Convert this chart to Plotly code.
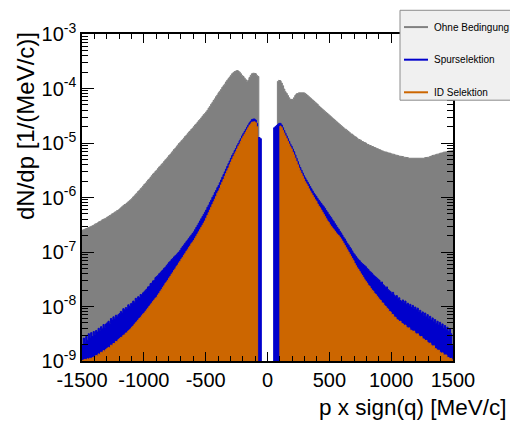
import numpy as np
import plotly.graph_objects as go

# ---------------- data (log10 of dN/dp per 10 MeV/c bin, None = empty bin) ----------------
BIN_LO, BIN_HI, BIN_W = -1500, 1500, 10

GRAY_LOG = [
    -6.60,-6.59,-6.58,-6.57,-6.56,-6.55,-6.54,-6.53,-6.52,-6.51,
    -6.49,-6.48,-6.47,-6.45,-6.44,-6.43,-6.41,-6.40,-6.39,-6.38,
    -6.36,-6.35,-6.33,-6.32,-6.30,-6.29,-6.27,-6.26,-6.24,-6.23,
    -6.21,-6.19,-6.17,-6.15,-6.13,-6.12,-6.10,-6.08,-6.06,-6.04,
    -6.02,-5.99,-5.97,-5.94,-5.92,-5.89,-5.87,-5.84,-5.82,-5.79,
    -5.76,-5.74,-5.71,-5.68,-5.66,-5.63,-5.60,-5.57,-5.55,-5.52,
    -5.50,-5.47,-5.44,-5.42,-5.39,-5.37,-5.34,-5.31,-5.29,-5.26,
    -5.23,-5.21,-5.18,-5.15,-5.12,-5.10,-5.07,-5.04,-5.01,-4.99,
    -4.96,-4.94,-4.91,-4.88,-4.86,-4.83,-4.80,-4.78,-4.75,-4.73,
    -4.70,-4.67,-4.65,-4.62,-4.59,-4.57,-4.54,-4.51,-4.48,-4.46,
    -4.43,-4.40,-4.36,-4.33,-4.29,-4.26,-4.22,-4.19,-4.15,-4.12,
    -4.08,-4.05,-4.02,-3.98,-3.95,-3.92,-3.88,-3.85,-3.82,-3.79,
    -3.76,-3.73,-3.71,-3.69,-3.68,-3.67,-3.68,-3.70,-3.73,-3.76,
    -3.78,-3.81,-3.84,-3.87,-3.85,-3.80,-3.76,-3.73,-3.72,-3.72,
    -3.73,-3.76,-3.78,None,None,None,None,None,None,None,
    None,None,None,None,None,None,None,None,-3.87,-3.85,
    -3.86,-3.90,-3.95,-4.01,-4.06,-4.09,-4.13,-4.17,-4.20,-4.21,
    -4.20,-4.17,-4.13,-4.10,-4.09,-4.08,-4.07,-4.07,-4.07,-4.08,
    -4.09,-4.11,-4.13,-4.15,-4.17,-4.19,-4.21,-4.23,-4.25,-4.27,
    -4.29,-4.32,-4.34,-4.36,-4.38,-4.40,-4.42,-4.44,-4.46,-4.48,
    -4.50,-4.52,-4.54,-4.56,-4.58,-4.60,-4.62,-4.64,-4.66,-4.68,
    -4.70,-4.72,-4.74,-4.75,-4.77,-4.79,-4.81,-4.83,-4.84,-4.86,
    -4.88,-4.89,-4.91,-4.93,-4.94,-4.95,-4.97,-4.98,-4.99,-5.00,
    -5.02,-5.03,-5.04,-5.05,-5.06,-5.07,-5.08,-5.09,-5.10,-5.11,
    -5.12,-5.13,-5.14,-5.15,-5.16,-5.16,-5.17,-5.18,-5.19,-5.19,
    -5.20,-5.21,-5.21,-5.22,-5.23,-5.23,-5.24,-5.24,-5.25,-5.25,
    -5.26,-5.26,-5.27,-5.27,-5.28,-5.28,-5.28,-5.28,-5.29,-5.29,
    -5.29,-5.29,-5.29,-5.29,-5.28,-5.28,-5.28,-5.27,-5.27,-5.26,
    -5.26,-5.25,-5.24,-5.23,-5.23,-5.22,-5.21,-5.20,-5.20,-5.19,
    -5.18,-5.18,-5.17,-5.17,-5.16,-5.16,-5.15,-5.15,-5.14,-5.14,
]

BLUE_LOG = [
    -8.70,-8.58,-8.66,-8.55,-8.62,-8.50,-8.58,-8.48,-8.55,-8.46,
    -8.52,-8.44,-8.47,-8.40,-8.44,-8.37,-8.41,-8.33,-8.38,-8.32,
    -8.30,-8.27,-8.31,-8.22,-8.25,-8.19,-8.23,-8.16,-8.19,-8.15,
    -8.13,-8.09,-8.12,-8.04,-8.06,-8.02,-8.03,-7.97,-8.00,-7.95,
    -7.94,-7.90,-7.92,-7.85,-7.87,-7.82,-7.84,-7.78,-7.79,-7.75,
    -7.73,-7.70,-7.68,-7.64,-7.63,-7.58,-7.57,-7.53,-7.52,-7.47,
    -7.45,-7.43,-7.40,-7.38,-7.35,-7.33,-7.30,-7.28,-7.25,-7.22,
    -7.19,-7.17,-7.14,-7.12,-7.09,-7.07,-7.05,-7.02,-7.00,-6.97,
    -6.93,-6.90,-6.87,-6.84,-6.81,-6.78,-6.75,-6.72,-6.69,-6.66,
    -6.63,-6.59,-6.55,-6.51,-6.47,-6.43,-6.39,-6.35,-6.31,-6.27,
    -6.23,-6.18,-6.14,-6.09,-6.05,-6.00,-5.96,-5.91,-5.87,-5.82,
    -5.78,-5.73,-5.68,-5.63,-5.58,-5.53,-5.48,-5.43,-5.38,-5.33,
    -5.28,-5.23,-5.19,-5.14,-5.10,-5.05,-5.01,-4.96,-4.92,-4.87,
    -4.83,-4.79,-4.75,-4.71,-4.67,-4.63,-4.60,-4.57,-4.56,-4.56,
    -4.58,-4.64,-4.90,-4.90,-4.92,None,None,None,None,None,
    None,None,None,None,None,-4.72,-4.70,-4.68,-4.66,-4.64,
    -4.64,-4.67,-4.72,-4.77,-4.82,-4.87,-4.92,-4.97,-5.02,-5.06,
    -5.11,-5.16,-5.22,-5.28,-5.34,-5.40,-5.45,-5.50,-5.55,-5.60,
    -5.64,-5.68,-5.72,-5.76,-5.80,-5.84,-5.88,-5.92,-5.95,-5.98,
    -6.02,-6.05,-6.08,-6.11,-6.14,-6.17,-6.20,-6.24,-6.27,-6.31,
    -6.34,-6.37,-6.41,-6.44,-6.48,-6.51,-6.55,-6.58,-6.62,-6.65,
    -6.69,-6.73,-6.76,-6.80,-6.84,-6.87,-6.91,-6.94,-6.98,-7.02,
    -7.05,-7.08,-7.11,-7.14,-7.16,-7.19,-7.21,-7.23,-7.25,-7.27,
    -7.30,-7.32,-7.35,-7.37,-7.39,-7.42,-7.44,-7.46,-7.48,-7.50,
    -7.52,-7.56,-7.55,-7.60,-7.62,-7.65,-7.64,-7.69,-7.71,-7.73,
    -7.76,-7.74,-7.79,-7.82,-7.80,-7.86,-7.84,-7.89,-7.91,-7.88,
    -7.93,-7.90,-7.96,-7.94,-7.99,-7.96,-8.02,-7.98,-8.04,-8.01,
    -8.06,-8.03,-8.09,-8.07,-8.13,-8.10,-8.16,-8.12,-8.19,-8.15,
    -8.22,-8.18,-8.25,-8.21,-8.28,-8.24,-8.31,-8.27,-8.34,-8.29,
    -8.36,-8.32,-8.40,-8.35,-8.43,-8.38,-8.46,-8.41,-8.50,-8.72,
]

ORANGE_LOG = [
    -8.99,-8.98,-8.97,-8.98,-8.96,-8.97,-8.95,-8.96,-8.94,-8.93,
    -8.92,-8.90,-8.91,-8.87,-8.88,-8.84,-8.85,-8.81,-8.82,-8.79,
    -8.77,-8.75,-8.76,-8.71,-8.72,-8.68,-8.68,-8.64,-8.65,-8.61,
    -8.59,-8.57,-8.56,-8.53,-8.52,-8.49,-8.48,-8.45,-8.43,-8.41,
    -8.38,-8.36,-8.33,-8.30,-8.28,-8.25,-8.22,-8.20,-8.17,-8.14,
    -8.12,-8.09,-8.06,-8.03,-8.00,-7.97,-7.94,-7.91,-7.88,-7.85,
    -7.83,-7.79,-7.76,-7.72,-7.69,-7.65,-7.62,-7.58,-7.55,-7.52,
    -7.48,-7.45,-7.41,-7.38,-7.34,-7.31,-7.27,-7.24,-7.20,-7.17,
    -7.13,-7.10,-7.06,-7.03,-6.99,-6.96,-6.92,-6.89,-6.85,-6.82,
    -6.79,-6.75,-6.71,-6.67,-6.63,-6.59,-6.55,-6.51,-6.47,-6.43,
    -6.38,-6.33,-6.28,-6.23,-6.18,-6.13,-6.08,-6.03,-5.98,-5.92,
    -5.88,-5.83,-5.77,-5.72,-5.67,-5.61,-5.56,-5.51,-5.46,-5.40,
    -5.35,-5.30,-5.25,-5.20,-5.16,-5.11,-5.06,-5.02,-4.97,-4.92,
    -4.88,-4.84,-4.80,-4.76,-4.72,-4.68,-4.65,-4.62,-4.61,-4.61,
    -4.63,-4.70,None,None,None,None,None,None,None,None,
    None,None,None,None,None,None,None,None,None,None,
    -4.69,-4.72,-4.77,-4.82,-4.87,-4.92,-4.97,-5.02,-5.07,-5.11,
    -5.17,-5.22,-5.28,-5.34,-5.40,-5.46,-5.51,-5.56,-5.61,-5.66,
    -5.71,-5.75,-5.79,-5.84,-5.88,-5.92,-5.96,-6.00,-6.04,-6.07,
    -6.12,-6.16,-6.19,-6.23,-6.27,-6.31,-6.35,-6.39,-6.43,-6.46,
    -6.50,-6.53,-6.56,-6.59,-6.62,-6.65,-6.68,-6.70,-6.73,-6.76,
    -6.80,-6.84,-6.88,-6.92,-6.96,-7.00,-7.04,-7.08,-7.12,-7.16,
    -7.21,-7.25,-7.29,-7.32,-7.36,-7.40,-7.43,-7.47,-7.51,-7.54,
    -7.57,-7.61,-7.63,-7.67,-7.70,-7.72,-7.76,-7.78,-7.81,-7.84,
    -7.87,-7.89,-7.93,-7.94,-7.98,-8.00,-8.03,-8.05,-8.09,-8.10,
    -8.14,-8.15,-8.19,-8.20,-8.24,-8.25,-8.28,-8.27,-8.31,-8.32,
    -8.35,-8.34,-8.38,-8.40,-8.39,-8.43,-8.44,-8.46,-8.45,-8.49,
    -8.51,-8.50,-8.54,-8.56,-8.55,-8.59,-8.60,-8.63,-8.62,-8.66,
    -8.68,-8.67,-8.71,-8.73,-8.72,-8.77,-8.78,-8.81,-8.80,-8.84,
    -8.86,-8.85,-8.89,-8.90,-8.89,-8.93,-8.94,-8.96,-8.95,-8.98,
]

SERIES_NAMES = ["Ohne Bedingung", "Spurselektion", "ID Selektion"]
SERIES_COLORS = ["#808080", "#0000cc", "#cc6600"]

X_TICKS = [-1500, -1000, -500, 0, 500, 1000, 1500]
X_TICK_TEXT = ["-1500", "-1000", "-500", "0", "500", "1000", "1500"]
Y_EXPONENTS = [-9, -8, -7, -6, -5, -4, -3]

X_TITLE = "p x sign(q) [MeV/c]"
Y_TITLE = "dN/dp [1/(MeV/c)]"

# ---------------- figure ----------------
FONT = "Liberation Sans, Arial, sans-serif"
FLOOR = 1e-14
edges = np.arange(BIN_LO, BIN_HI + BIN_W, BIN_W)


def step_polygon(vals):
    xs, ys = [edges[0]], [FLOOR]
    for i, v in enumerate(vals):
        y = FLOOR if v is None else 10.0 ** v
        xs += [edges[i], edges[i + 1]]
        ys += [y, y]
    xs.append(edges[-1])
    ys.append(FLOOR)
    return xs, ys


fig = go.Figure()
for vals, name, col in zip([GRAY_LOG, BLUE_LOG, ORANGE_LOG], SERIES_NAMES, SERIES_COLORS):
    xs, ys = step_polygon(vals)
    fig.add_trace(go.Scatter(x=xs, y=ys, mode="lines", fill="toself",
                             fillcolor=col, line=dict(color=col, width=1),
                             name=name, showlegend=False, hoverinfo="skip"))

# page body has an 8px margin, so the figure is laid out 8px smaller / shifted
OFF = 8
W, H = 518 - OFF, 423 - OFF
PLOT_L, PLOT_R, PLOT_T, PLOT_B = 82, 453, 30, 361  # in reference pixels
ML, MT = PLOT_L - OFF, PLOT_T - OFF
PW, PH = PLOT_R - PLOT_L, PLOT_B - PLOT_T
MR, MB = W - ML - PW, H - MT - PH


def px2x(px):
    return (px - PLOT_L) / PW


def px2y(py):
    return (PLOT_B - py) / PH


minor_y = [k * 10.0 ** e for e in Y_EXPONENTS[:-1] for k in range(2, 10)]

fig.update_layout(
    width=W, height=H,
    margin=dict(l=ML, r=MR, t=MT, b=MB, pad=0),
    paper_bgcolor="white", plot_bgcolor="white",
    font=dict(family=FONT, color="black"),
    showlegend=False,
    xaxis=dict(range=[BIN_LO, BIN_HI], tickvals=X_TICKS, ticktext=X_TICK_TEXT,
               ticks="inside", ticklen=9, tickcolor="black", tickwidth=1,
               minor=dict(dtick=100, ticks="inside", ticklen=5, tickcolor="black"),
               showline=True, linecolor="black", linewidth=1.5, mirror="allticks",
               showgrid=False, zeroline=False, tickfont=dict(size=20, family=FONT)),
    yaxis=dict(type="log", range=[-9, -3],
               tickvals=[10.0 ** e for e in Y_EXPONENTS],
               ticktext=["10<sup>%d</sup>" % e for e in Y_EXPONENTS],
               ticks="inside", ticklen=12, tickcolor="black", tickwidth=1,
               minor=dict(tickvals=minor_y, ticks="inside", ticklen=6, tickcolor="black"),
               showline=True, linecolor="black", linewidth=1.5, mirror="allticks",
               showgrid=False, zeroline=False, tickfont=dict(size=20, family=FONT)),
)

annotations = [
    dict(text=X_TITLE, xref="paper", yref="paper", x=px2x(509), y=px2y(408),
         xanchor="right", yanchor="middle", showarrow=False,
         font=dict(size=22.5, family=FONT, color="black")),
    dict(text=Y_TITLE, xref="paper", yref="paper", x=px2x(25), y=px2y(26),
         xanchor="center", yanchor="top", textangle=-90, showarrow=False,
         font=dict(size=24, family=FONT, color="black")),
]

# legend box (drawn by hand, ROOT-style)
shapes = [dict(type="rect", xref="paper", yref="paper",
               x0=px2x(400), x1=px2x(530), y0=px2y(97), y1=px2y(6),
               fillcolor="#f0f0f0", line=dict(color="#8c8c8c", width=1), layer="above")]
rows_y = [23, 56, 89]
for name, col, ry in zip(SERIES_NAMES, SERIES_COLORS, rows_y):
    shapes.append(dict(type="line", xref="paper", yref="paper",
                       x0=px2x(404), x1=px2x(428), y0=px2y(ry), y1=px2y(ry),
                       line=dict(color=col, width=2), layer="above"))
    annotations.append(dict(text=name, xref="paper", yref="paper",
                            x=px2x(432), y=px2y(ry), xanchor="left", yanchor="middle",
                            showarrow=False, font=dict(size=10, family=FONT, color="black")))

fig.update_layout(annotations=annotations, shapes=shapes)
fig.write_html("out.html")
